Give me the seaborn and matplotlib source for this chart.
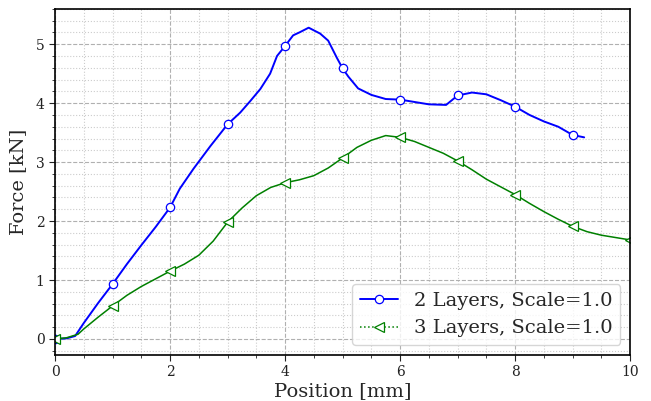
import numpy as np
import pandas as pd
import matplotlib
matplotlib.use("Agg")
import matplotlib.pyplot as plt
import seaborn as sns
from matplotlib.ticker import MultipleLocator

# --- data ---
pos_2 = [0, 0.2, 0.35, 0.5, 0.75, 1, 1.25, 1.5, 1.75, 2, 2.17, 2.41, 2.7, 3,
         3.22, 3.39, 3.57, 3.74, 3.86, 4, 4.14, 4.25, 4.41, 4.61, 4.75, 4.9, 5, 5.1,
         5.27, 5.5, 5.75, 6, 6.25, 6.5, 6.8, 6.9, 7, 7.25, 7.5, 7.75, 8, 8.25, 8.5,
         8.75, 9, 9.2]
force_2 = [0, 0.01, 0.05, 0.27, 0.61, 0.93, 1.27, 1.59, 1.9, 2.23, 2.55, 2.89, 3.27,
           3.64, 3.84, 4.03, 4.24, 4.5, 4.8, 4.97, 5.15, 5.2, 5.28, 5.18, 5.06, 4.77,
           4.59, 4.45, 4.25, 4.14, 4.07, 4.06, 4.02, 3.98, 3.97, 4.05, 4.13, 4.18, 4.15,
           4.05, 3.94, 3.8, 3.69, 3.6, 3.46, 3.42]

pos_3 = [0, 0.2, 0.4, 0.5, 0.75, 1, 1.25, 1.5, 1.75, 2, 2.25, 2.5, 2.75, 3, 3.25, 3.5,
         3.75, 4, 4.25, 4.5, 4.75, 5, 5.25, 5.5, 5.75, 6, 6.25, 6.5, 6.75, 7, 7.25, 7.5,
         7.75, 8, 8.25, 8.5, 8.75, 9, 9.25, 9.5, 9.75, 10]
force_3 = [0, 0.02, 0.08, 0.17, 0.37, 0.56, 0.74, 0.89, 1.02, 1.15, 1.27, 1.42, 1.66,
           1.98, 2.22, 2.43, 2.57, 2.65, 2.7, 2.77, 2.9, 3.07, 3.25, 3.37, 3.45, 3.42,
           3.35, 3.25, 3.15, 3.02, 2.87, 2.71, 2.58, 2.45, 2.3, 2.16, 2.03, 1.91, 1.82,
           1.76, 1.72, 1.68]

label_2 = "2 Layers, Scale=1.0"
label_3 = "3 Layers, Scale=1.0"
marker_positions = list(range(0, 11))

sns.set_style("white")
plt.rcParams['font.family'] = ['DejaVu Serif']

fig = plt.figure(figsize=(6.51, 4.01), dpi=100)
ax = fig.add_axes([0.0845, 0.115, 0.8835, 0.863])

idx2 = [i for i, v in enumerate(pos_2) if v in marker_positions]
idx3 = [i for i, v in enumerate(pos_3) if v in marker_positions]

sns.lineplot(x=pos_2, y=force_2, ax=ax, color='#0000ff', linewidth=1.4,
             marker='o', markevery=idx2, markersize=6, markerfacecolor='white',
             markeredgecolor='#0000ff', markeredgewidth=0.9, label=label_2,
             sort=False, estimator=None)
sns.lineplot(x=pos_3, y=force_3, ax=ax, color='green', linewidth=1.1,
             marker='<', markevery=idx3, markersize=7.5, markerfacecolor='white',
             markeredgecolor='green', markeredgewidth=0.9, label=label_3,
             sort=False, estimator=None)

ax.set_xlim(0, 10)
ax.set_ylim(-0.27, 5.6)
ax.xaxis.set_major_locator(MultipleLocator(2))
ax.xaxis.set_minor_locator(MultipleLocator(0.5))
ax.yaxis.set_major_locator(MultipleLocator(1))
ax.yaxis.set_minor_locator(MultipleLocator(0.2))

ax.grid(which='major', linestyle='--', color='#b0b0b0', linewidth=0.8)
ax.grid(which='minor', linestyle=':', color='#cccccc', linewidth=0.8)
ax.set_axisbelow(True)

ax.tick_params(which='both', direction='out', bottom=True, left=True, top=False, right=False,
               colors='#222222', labelsize=10)
ax.tick_params(which='major', length=4)
ax.tick_params(which='minor', length=2.5)
for s in ax.spines.values():
    s.set_color('black')
    s.set_linewidth(1.2)

ax.set_xlabel("Position [mm]", fontsize=14, labelpad=2)
ax.set_ylabel("Force [kN]", fontsize=14, labelpad=6)

leg = ax.legend(loc='lower right', fontsize=14, frameon=True, borderpad=0.4,
                handlelength=2.0, labelspacing=0.5)
handles = leg.legend_handles
handles[1].set_linestyle(':')

fig.savefig("out.png", dpi=100)
